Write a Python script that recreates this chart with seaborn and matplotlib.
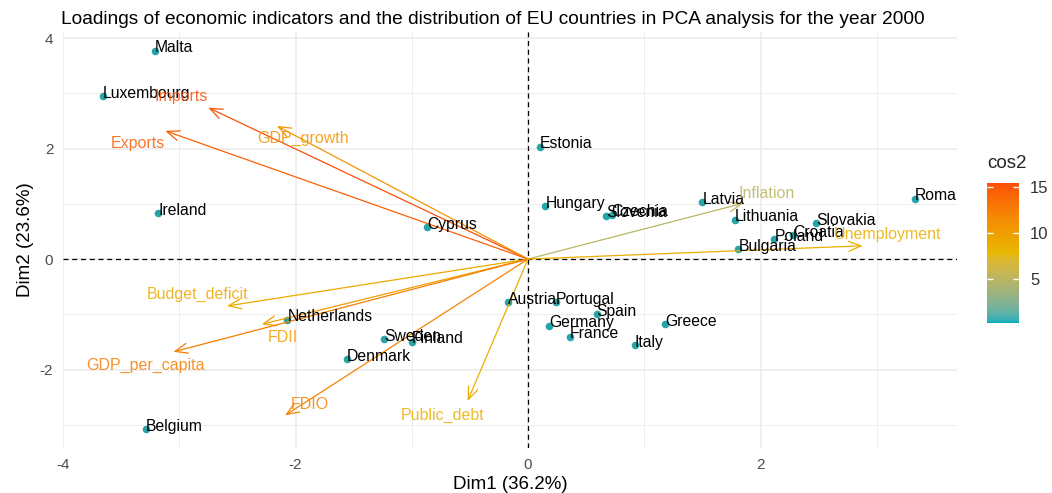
import numpy as np
import pandas as pd
import matplotlib
matplotlib.use("Agg")
import matplotlib.pyplot as plt
import seaborn as sns
from matplotlib.colors import ListedColormap, Normalize, to_rgb
from matplotlib.patches import FancyArrowPatch
from matplotlib.cm import ScalarMappable

# ---- individuals (PCA scores, Dim1 / Dim2) ----
countries = ["Malta", "Luxembourg", "Ireland", "Cyprus", "Estonia", "Hungary",
             "Slovenia", "Czechia", "Latvia", "Lithuania", "Slovakia", "Croatia",
             "Poland", "Bulgaria", "Romania", "Austria", "Portugal", "Spain",
             "Germany", "France", "Greece", "Italy", "Netherlands", "Sweden",
             "Finland", "Denmark", "Belgium"]
dim1 = [-3.21, -3.66, -3.18, -0.87, 0.10, 0.15, 0.67, 0.72, 1.50, 1.78, 2.48, 2.28,
        2.12, 1.81, 3.33, -0.17, 0.24, 0.59, 0.18, 0.36, 1.18, 0.92, -2.07, -1.24,
        -1.00, -1.56, -3.29]
dim2 = [3.77, 2.95, 0.83, 0.58, 2.03, 0.96, 0.78, 0.80, 1.03, 0.71, 0.65, 0.43,
        0.36, 0.18, 1.09, -0.78, -0.78, -1.00, -1.21, -1.41, -1.18, -1.56, -1.10, -1.45,
        -1.50, -1.81, -3.08]

# ---- variables (scaled loadings) ----
variables = ["Imports", "Exports", "GDP_growth", "Inflation", "Unemployment",
             "Budget_deficit", "FDII", "GDP_per_capita", "FDIO", "Public_debt"]
var_dim1 = [-2.75, -3.12, -2.16, 1.85, 2.88, -2.59, -2.29, -3.05, -2.09, -0.52]
var_dim2 = [2.74, 2.32, 2.41, 1.01, 0.24, -0.85, -1.18, -1.68, -2.83, -2.57]
var_cos2 = [15.3, 14.4, 10.8, 5.0, 8.8, 9.0, 9.8, 12.4, 12.0, 8.6]

# label nudges for the variable names (pixels, relative to arrow tips)
var_label_nudge = [(-27, 11), (-27, -13), (26, -13), (24, 10), (25, 11),
                   (-29, 12), (21, -13), (-28, -14), (25, 11), (-25, -14)]

title = ("Loadings of economic indicators and the distribution of EU countries "
         "in PCA analysis for the year 2000")
x_label = "Dim1 (36.2%)"
y_label = "Dim2 (23.6%)"
legend_title = "cos2"
color_limits = (0.25, 15.4)
legend_ticks = [5, 10, 15]


# ---- gradient interpolated in CIE Lab, like ggplot's gradientn ----
def _srgb_to_lab(c):
    c = np.asarray(c, float)
    lin = np.where(c <= 0.04045, c / 12.92, ((c + 0.055) / 1.055) ** 2.4)
    M = np.array([[0.4124, 0.3576, 0.1805],
                  [0.2126, 0.7152, 0.0722],
                  [0.0193, 0.1192, 0.9505]])
    xyz = M @ lin / np.array([0.95047, 1.0, 1.08883])
    f = np.where(xyz > 0.008856, np.cbrt(xyz), 7.787 * xyz + 16 / 116)
    return np.array([116 * f[1] - 16, 500 * (f[0] - f[1]), 200 * (f[1] - f[2])])


def _lab_to_srgb(lab):
    L, a, b = lab
    fy = (L + 16) / 116
    fx = fy + a / 500
    fz = fy - b / 200
    f = np.array([fx, fy, fz])
    xyz = np.where(f ** 3 > 0.008856, f ** 3, (f - 16 / 116) / 7.787)
    xyz = xyz * np.array([0.95047, 1.0, 1.08883])
    Minv = np.array([[3.2406, -1.5372, -0.4986],
                     [-0.9689, 1.8758, 0.0415],
                     [0.0557, -0.2040, 1.0570]])
    lin = Minv @ xyz
    lin = np.clip(lin, 0, 1)
    c = np.where(lin <= 0.0031308, 12.92 * lin, 1.055 * lin ** (1 / 2.4) - 0.055)
    return np.clip(c, 0, 1)


stops = [_srgb_to_lab(to_rgb(h)) for h in ["#00AFBB", "#E7B800", "#FC4E07"]]
samples = []
for t in np.linspace(0, 1, 256):
    seg = min(int(t * 2), 1)
    u = t * 2 - seg
    samples.append(_lab_to_srgb(stops[seg] * (1 - u) + stops[seg + 1] * u))
cmap = ListedColormap(samples)
norm = Normalize(*color_limits)

# ---- figure ----
sns.set_theme(style="white")
plt.rcParams["font.family"] = ["Liberation Sans", "DejaVu Sans"]

fig = plt.figure(figsize=(10.52, 4.93), dpi=100)
ax = fig.add_axes([0.0599, 0.0913, 0.8498, 0.8438])
ax.set_xlim(-4.0, 3.69)
ax.set_ylim(-3.42, 4.11)

# grid
for v in [-3, -1, 1, 3]:
    ax.axvline(v, color="#EBEBEB", lw=0.6, zorder=0)
    ax.axhline(v, color="#EBEBEB", lw=0.6, zorder=0)
for v in [-4, -2, 0, 2]:
    ax.axvline(v, color="#EBEBEB", lw=1.1, zorder=0)
for v in [-2, 0, 2, 4]:
    ax.axhline(v, color="#EBEBEB", lw=1.1, zorder=0)

ax.axvline(0, color="black", lw=0.9, ls=(0, (4, 3)), zorder=1)
ax.axhline(0, color="black", lw=0.9, ls=(0, (4, 3)), zorder=1)

ind = pd.DataFrame({"country": countries, "Dim1": dim1, "Dim2": dim2})
sns.scatterplot(data=ind, x="Dim1", y="Dim2", ax=ax, color="#26A5A8",
                s=30, linewidth=0, zorder=3, legend=False)
for name, x, y in zip(ind["country"], ind["Dim1"], ind["Dim2"]):
    ax.annotate(name, (x, y), xytext=(0, 3), textcoords="offset pixels",
                ha="left", va="center", fontsize=11.3, color="black",
                clip_on=True, zorder=5)

# arrows for the variables
for name, x, y, c, (dx, dy) in zip(variables, var_dim1, var_dim2, var_cos2,
                                   var_label_nudge):
    col = cmap(norm(c))
    arr = FancyArrowPatch((0, 0), (x, y),
                          arrowstyle="->,head_length=0.75,head_width=0.3",
                          mutation_scale=12, shrinkA=0, shrinkB=0,
                          lw=0.9, color=col, zorder=4)
    ax.add_patch(arr)
    ax.annotate(name, (x, y), xytext=(dx, dy), textcoords="offset pixels",
                ha="center", va="center", fontsize=11.5, color=col,
                alpha=0.85, zorder=5)

ax.set_xticks([-4, -2, 0, 2])
ax.set_yticks([-2, 0, 2, 4])
ax.set_xticklabels(["-4", "-2", "0", "2"])
ax.set_yticklabels(["-2", "0", "2", "4"])
ax.tick_params(axis="both", length=4, width=0.9, color="#333333",
               labelcolor="#4D4D4D", labelsize=11, pad=3)
for sp in ax.spines.values():
    sp.set_visible(False)
ax.grid(False)
ax.set_xlabel(x_label, fontsize=13.5, color="black", labelpad=3)
ax.set_ylabel(y_label, fontsize=13.5, color="black", labelpad=4)
ax.set_title(title, fontsize=13.8, color="black", loc="left", x=-0.002, pad=6)

# colour bar legend
cax = fig.add_axes([0.9382, 0.3448, 0.0304, 0.284])
cb = fig.colorbar(ScalarMappable(norm=norm, cmap=cmap), cax=cax)
cb.outline.set_visible(False)
cb.set_ticks(legend_ticks)
cax.tick_params(length=0, labelsize=12, labelcolor="#333333", pad=8)
cax.hlines(legend_ticks, 0, 0.2, color="white", lw=1)
cax.hlines(legend_ticks, 0.8, 1.0, color="white", lw=1)
fig.text(0.938, 0.668, legend_title, fontsize=13.5, ha="left", va="center")

fig.savefig("out.png", dpi=100)
